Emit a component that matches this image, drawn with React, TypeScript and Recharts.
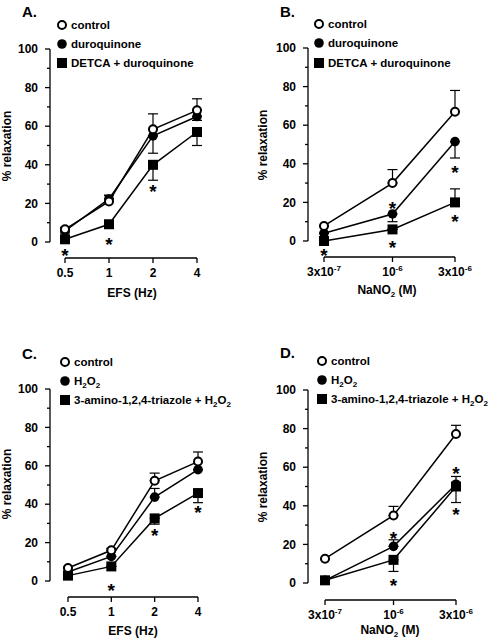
import React from "react";
import {
  ComposedChart,
  Line,
  XAxis,
  YAxis,
  ErrorBar,
  ReferenceLine,
  Customized,
} from "recharts";

const FONT = '"Liberation Sans", Arial, Helvetica, sans-serif';

// x categories
const efsLabels = ["0.5", "1", "2", "4"];
const efsPos = [0, 1, 2, 3];
const nitrite = [3e-7, 1e-6, 3e-6];
const nitriteBase = ["3x10", "10", "3x10"];
const nitriteExp = ["-7", "-6", "-6"];
const yTicks = [0, 10, 20, 30, 40, 50, 60, 70, 80, 90, 100];

// errors: positive = bar drawn upwards, negative = downwards
// A. EFS, duroquinone
const aControl = [6.6, 21, 58.4, 68.2];
const aControlErr = [1, 3, 8, 6];
const aDuro = [5.7, 22.3, 55, 65];
const aDuroErr = [-1, 2, -9, -2];
const aDetca = [1.4, 9.2, 40, 57];
const aDetcaErr = [-1, -1, -8, -7];
const aStarX = [0, 1, 2];
const aStarY = [-4.5, 1, 28.7];

// B. NaNO2, duroquinone
const bControl = [7.8, 30, 67];
const bControlErr = [0, 7, 11];
const bDuro = [4, 14, 51.5];
const bDuroErr = [0, -4, -8.5];
const bDetca = [0, 6, 20];
const bDetcaErr = [0, 0, 7];
const bStarX = [3e-7, 1e-6, 1e-6, 3e-6, 3e-6];
const bStarY = [-5, 19, -1, 38, 12.6];

// C. EFS, H2O2
const cControl = [6.8, 16, 52.2, 62.2];
const cControlErr = [0.5, 1, 4, 5];
const cH2o2 = [4.7, 12.8, 43.7, 58];
const cH2o2Err = [0, 0, 4.5, 0];
const cAt = [2.8, 7.6, 32.6, 45.8];
const cAtErr = [0, 0, -3, -5];
const cStarX = [1, 2, 3];
const cStarY = [-2.8, 26, 38];

// D. NaNO2, H2O2
const dControl = [12.6, 35, 77.2];
const dControlErr = [0, 4.7, 4.5];
const dH2o2 = [1.4, 19, 51.2];
const dH2o2Err = [0, 3.4, 4];
const dAt = [1.4, 12, 50];
const dAtErr = [0, -6, -8.3];
const dStarX = [1e-6, 1e-6, 3e-6, 3e-6];
const dStarY = [25.3, 1.2, 59, 37.6];

type Marker = "open" | "filled" | "square";

const drawMarker = (m: Marker, cx: number, cy: number, key?: string) => {
  if (m === "square")
    return <rect key={key} x={cx - 5} y={cy - 5} width={10} height={10} fill="#000" />;
  if (m === "filled") return <circle key={key} cx={cx} cy={cy} r={4.8} fill="#000" />;
  return <circle key={key} cx={cx} cy={cy} r={4} fill="#fff" stroke="#000" strokeWidth={2} />;
};

const rows = (xs: number[], ys: number[], errs: number[]) =>
  xs.map((x, i) => ({
    x,
    y: ys[i],
    e: errs[i] >= 0 ? [0, errs[i]] : [-errs[i], 0],
  }));

const YTick = (props: any) => {
  const { x, y, payload } = props;
  const major = payload.value % 20 === 0;
  const ax = x + 12;
  return (
    <g>
      <line x1={ax - (major ? 5 : 3)} x2={ax} y1={y} y2={y} stroke="#000" strokeWidth={1.3} />
      {major && (
        <text x={x} y={y} dy="0.35em" textAnchor="end" fontFamily={FONT} fontWeight="bold" fontSize={12} fill="#000">
          {payload.value}
        </text>
      )}
    </g>
  );
};

const h2o2 = (
  <>
    <tspan>H</tspan>
    <tspan dy={3} fontSize={8}>2</tspan>
    <tspan dy={-3}>O</tspan>
    <tspan dy={3} fontSize={8}>2</tspan>
  </>
);

const nano2 = (
  <>
    <tspan>NaNO</tspan>
    <tspan dy={3} fontSize={8}>2</tspan>
    <tspan dy={-3}> (M)</tspan>
  </>
);

type SeriesDef = { name: React.ReactNode; ys: number[]; errs: number[]; marker: Marker };

type PanelDef = {
  left: number;
  top: number;
  title: string;
  titleAt: [number, number];
  markerX: number;
  legendRows: number[];
  yLabelAt: [number, number];
  xLabel: React.ReactNode;
  xLabelAt: [number, number];
  margin: { top: number; right: number; bottom: number; left: number };
  xs: number[];
  xDomain: [number, number];
  log: boolean;
  yMin: number;
  series: SeriesDef[];
  starX: number[];
  starY: number[];
};

const efsTick = (props: any) => {
  const { x, y, payload } = props;
  const i = efsPos.indexOf(payload.value);
  return (
    <text x={x} y={y + 14} textAnchor="middle" fontFamily={FONT} fontWeight="bold" fontSize={12} fill="#000">
      {efsLabels[i]}
    </text>
  );
};

const nitriteTick = (props: any) => {
  const { x, y, payload } = props;
  const i = nitrite.indexOf(payload.value);
  return (
    <text x={x} y={y + 14} textAnchor="middle" fontFamily={FONT} fontWeight="bold" fontSize={12} fill="#000">
      <tspan>{nitriteBase[i]}</tspan>
      <tspan dy={-5} fontSize={8}>{nitriteExp[i]}</tspan>
    </text>
  );
};

const Panel = ({ p }: { p: PanelDef }) => {
  const textLayer = () => (
    <g fontFamily={FONT} fontWeight="bold" fill="#000">
      <text x={p.titleAt[0]} y={p.titleAt[1]} fontSize={15}>{p.title}</text>
      {p.series.map((s, i) => (
        <g key={i}>
          {drawMarker(s.marker, p.markerX, p.legendRows[i])}
          <text x={p.markerX + 9} y={p.legendRows[i] + 4} fontSize={11.5}>{s.name}</text>
        </g>
      ))}
      <text
        x={p.yLabelAt[0]}
        y={p.yLabelAt[1]}
        transform={`rotate(-90 ${p.yLabelAt[0]} ${p.yLabelAt[1]})`}
        textAnchor="middle"
        dy="0.35em"
        fontSize={12}
      >
        % relaxation
      </text>
      <text x={p.xLabelAt[0]} y={p.xLabelAt[1]} textAnchor="middle" fontSize={12}>
        {p.xLabel}
      </text>
    </g>
  );

  const star = (d: any) => (
    <text
      key={`s${d.index}`}
      x={d.cx}
      y={d.cy + 11}
      textAnchor="middle"
      fontFamily={FONT}
      fontWeight="bold"
      fontSize={19}
      fill="#000"
    >
      *
    </text>
  );

  const stars = p.starX.map((x, i) => ({ x, y: p.starY[i] }));
  const last = p.xs[p.xs.length - 1];

  return (
    <div style={{ position: "absolute", left: p.left, top: p.top }}>
      <ComposedChart width={245} height={320} margin={p.margin}>
        <XAxis
          type="number"
          dataKey="x"
          scale={p.log ? "log" : "auto"}
          domain={p.xDomain}
          ticks={p.xs}
          interval={0}
          height={40}
          axisLine={false}
          tickSize={5}
          tickMargin={0}
          tickLine={{ stroke: "#000", strokeWidth: 1.3 }}
          tick={p.log ? nitriteTick : efsTick}
        />
        <YAxis
          type="number"
          domain={[p.yMin, 100]}
          ticks={yTicks}
          interval={0}
          width={30}
          axisLine={false}
          tickLine={false}
          tickSize={0}
          tickMargin={12}
          tick={<YTick />}
        />
        <ReferenceLine
          segment={[{ x: p.xDomain[0], y: 0 }, { x: p.xDomain[0], y: 100 }]}
          stroke="#000"
          strokeWidth={1.3}
          ifOverflow="visible"
        />
        <ReferenceLine
          segment={[{ x: p.xs[0], y: p.yMin }, { x: last, y: p.yMin }]}
          stroke="#000"
          strokeWidth={1.3}
          ifOverflow="visible"
        />
        {[...p.series].reverse().map((s, i) => (
          <Line
            key={i}
            data={rows(p.xs, s.ys, s.errs)}
            dataKey="y"
            type="linear"
            stroke="#000"
            strokeWidth={1.5}
            isAnimationActive={false}
            activeDot={false}
            dot={(d: any) => drawMarker(s.marker, d.cx, d.cy, `m${d.index}`)}
          >
            <ErrorBar dataKey="e" direction="y" width={5} stroke="#000" strokeWidth={1.2} />
          </Line>
        ))}
        <Line
          data={stars}
          dataKey="y"
          stroke="none"
          isAnimationActive={false}
          activeDot={false}
          dot={star}
        />
        <Customized component={textLayer} />
      </ComposedChart>
    </div>
  );
};

const panels: PanelDef[] = [
  {
    left: 0,
    top: 0,
    title: "A.",
    titleAt: [22, 17],
    markerX: 62,
    legendRows: [25, 44, 63],
    yLabelAt: [7, 146],
    xLabel: "EFS (Hz)",
    xLabelAt: [132, 297],
    margin: { top: 49, right: 48, bottom: 22, left: 20 },
    xs: efsPos,
    xDomain: [-0.341, 3],
    log: false,
    yMin: -8.29,
    series: [
      { name: "control", ys: aControl, errs: aControlErr, marker: "open" },
      { name: "duroquinone", ys: aDuro, errs: aDuroErr, marker: "filled" },
      { name: "DETCA + duroquinone", ys: aDetca, errs: aDetcaErr, marker: "square" },
    ],
    starX: aStarX,
    starY: aStarY,
  },
  {
    left: 245,
    top: 0,
    title: "B.",
    titleAt: [35, 17],
    markerX: 74,
    legendRows: [24, 43, 63],
    yLabelAt: [18, 145],
    xLabel: nano2,
    xLabelAt: [142, 294],
    margin: { top: 48, right: 35, bottom: 23, left: 33 },
    xs: nitrite,
    xDomain: [2.265e-7, 3e-6],
    log: true,
    yMin: -8.3,
    series: [
      { name: "control", ys: bControl, errs: bControlErr, marker: "open" },
      { name: "duroquinone", ys: bDuro, errs: bDuroErr, marker: "filled" },
      { name: "DETCA + duroquinone", ys: bDetca, errs: bDetcaErr, marker: "square" },
    ],
    starX: bStarX,
    starY: bStarY,
  },
  {
    left: 0,
    top: 320,
    title: "C.",
    titleAt: [22, 39],
    markerX: 65,
    legendRows: [42, 61, 80],
    yLabelAt: [7, 164],
    xLabel: "EFS (Hz)",
    xLabelAt: [133, 315],
    margin: { top: 69, right: 47, bottom: 3, left: 20 },
    xs: efsPos,
    xDomain: [-0.415, 3],
    log: false,
    yMin: -8.33,
    series: [
      { name: "control", ys: cControl, errs: cControlErr, marker: "open" },
      { name: h2o2, ys: cH2o2, errs: cH2o2Err, marker: "filled" },
      { name: <>3-amino-1,2,4-triazole + {h2o2}</>, ys: cAt, errs: cAtErr, marker: "square" },
    ],
    starX: cStarX,
    starY: cStarY,
  },
  {
    left: 245,
    top: 320,
    title: "D.",
    titleAt: [35, 38],
    markerX: 77,
    legendRows: [41, 60, 79],
    yLabelAt: [18, 167],
    xLabel: nano2,
    xLabelAt: [145, 314],
    margin: { top: 70, right: 34, bottom: 0, left: 33 },
    xs: nitrite,
    xDomain: [2.224e-7, 3e-6],
    log: true,
    yMin: -8.8,
    series: [
      { name: "control", ys: dControl, errs: dControlErr, marker: "open" },
      { name: h2o2, ys: dH2o2, errs: dH2o2Err, marker: "filled" },
      { name: <>3-amino-1,2,4-triazole + {h2o2}</>, ys: dAt, errs: dAtErr, marker: "square" },
    ],
    starX: dStarX,
    starY: dStarY,
  },
];

export default function App() {
  return (
    <div style={{ position: "absolute", left: 0, top: 0, width: 490, height: 640, background: "#fff", overflow: "hidden" }}>
      {panels.map((p, i) => (
        <Panel key={i} p={p} />
      ))}
    </div>
  );
}
